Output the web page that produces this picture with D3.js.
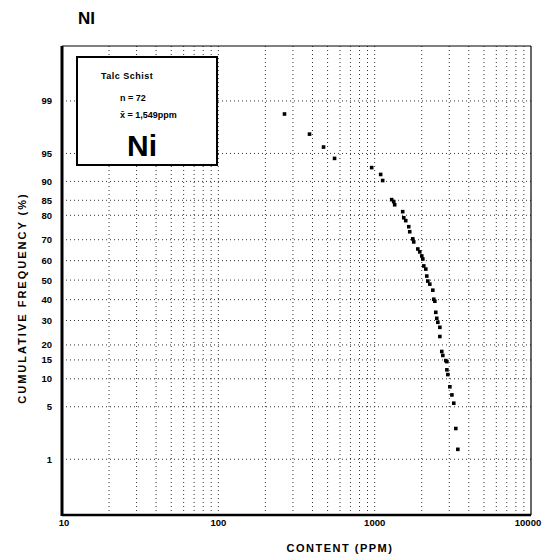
<!DOCTYPE html>
<html>
<head>
<meta charset="utf-8">
<script src="https://cdn.jsdelivr.net/npm/d3@7"></script>
<style>
  body { margin: 0; background: #fff; }
  text { font-family: "Liberation Sans", "DejaVu Sans", sans-serif; fill: #000; }
</style>
</head>
<body>
<div id="container"></div>
<script>
// Données
const yTicks = [1, 5, 10, 15, 20, 30, 40, 50, 60, 70, 80, 85, 90, 95, 99];
const xTicks = [10, 100, 1000, 10000];
const xTickLabels = ["10", "100", "1000", "10000"];

// teneur (ppm) et fréquence cumulée (%) de chaque point
const contentPpm = [265, 383, 471, 554, 957, 1092, 1125, 1285, 1324, 1343, 1511, 1535, 1580,
  1652, 1676, 1753, 1778, 1888, 1943, 2001, 2032, 2061, 2124, 2154, 2187, 2253, 2355, 2388,
  2426, 2460, 2496, 2535, 2612, 2612, 2687, 2729, 2851, 2897, 2897, 2938, 3027, 3119, 3206,
  3304, 3404];
const cumFreq = [98.45, 97.1, 95.8, 94.3, 92.8, 91.5, 90.2, 85.2, 84.6, 83.6, 81.3, 79.1, 78.0,
  75.6, 73.5, 70.4, 69.0, 65.7, 64.3, 62.3, 60.8, 57.3, 55.7, 52.1, 49.5, 47.9, 44.8, 40.2,
  39.2, 33.8, 31.0, 29.2, 27.0, 23.2, 17.7, 16.4, 14.8, 14.5, 12.2, 11.0, 8.3, 6.8, 5.5,
  2.7, 1.4];

const legendLines = ["Talc  Schist", "n = 72", "x\u0304 = 1,549ppm"];

const width = 560;
const height = 557;
const mLeft = 62, mRight = 531, mTop = 46, mBottom = 515;

// inverse de la loi normale (Acklam)
function normInv(p) {
  const a = [-39.6968302866538, 220.946098424521, -275.928510446969, 138.357751867269, -30.6647980661472, 2.50662827745924];
  const b = [-54.4760987982241, 161.585836858041, -155.698979859887, 66.8013118877197, -13.2806815528857];
  const c = [-0.00778489400243029, -0.322396458041136, -2.40075827716184, -2.54973253934373, 4.37466414146497, 2.93816398269878];
  const d = [0.00778469570904146, 0.32246712907004, 2.445134137143, 3.75440866190742];
  const pl = 0.02425;
  let q, r;
  if (p < pl) {
    q = Math.sqrt(-2 * Math.log(p));
    return (((((c[0]*q+c[1])*q+c[2])*q+c[3])*q+c[4])*q+c[5]) / ((((d[0]*q+d[1])*q+d[2])*q+d[3])*q+1);
  } else if (p <= 1 - pl) {
    q = p - 0.5; r = q * q;
    return (((((a[0]*r+a[1])*r+a[2])*r+a[3])*r+a[4])*r+a[5])*q / (((((b[0]*r+b[1])*r+b[2])*r+b[3])*r+b[4])*r+1);
  } else {
    q = Math.sqrt(-2 * Math.log(1 - p));
    return -(((((c[0]*q+c[1])*q+c[2])*q+c[3])*q+c[4])*q+c[5]) / ((((d[0]*q+d[1])*q+d[2])*q+d[3])*q+1);
  }
}

// Échelles
const xScale = d3.scaleLog().domain([10, 10000]).range([mLeft, mRight]);
const zScale = d3.scaleLinear().domain([-3.05, 3.04]).range([mBottom, mTop]);
const yScale = p => zScale(normInv(p / 100));

const svg = d3.select("#container").append("svg")
  .attr("width", width).attr("height", height);

// titre
svg.append("text")
  .attr("x", 78).attr("y", 24)
  .style("font-size", "17px").style("font-weight", "bold")
  .text("NI");

// grille verticale (1..9 par décade)
const minor = [];
for (let e = 1; e < 4; e++) for (let m = 1; m <= 9; m++) minor.push(m * Math.pow(10, e));
svg.append("g").selectAll("line").data(minor.filter(v => v > 10)).enter()
  .append("line")
  .attr("x1", d => xScale(d)).attr("x2", d => xScale(d))
  .attr("y1", mTop).attr("y2", mBottom)
  .attr("stroke", "#333").attr("stroke-width", 1)
  .attr("stroke-dasharray", "1,3");

// grille horizontale
svg.append("g").selectAll("line").data(yTicks).enter()
  .append("line")
  .attr("x1", mLeft).attr("x2", mRight)
  .attr("y1", d => yScale(d)).attr("y2", d => yScale(d))
  .attr("stroke", "#333").attr("stroke-width", 1)
  .attr("stroke-dasharray", "1,3");

// cadre
svg.append("line").attr("x1", mLeft).attr("x2", mRight).attr("y1", mTop).attr("y2", mTop)
  .attr("stroke", "#000").attr("stroke-width", 1);
svg.append("line").attr("x1", mRight).attr("x2", mRight).attr("y1", mTop).attr("y2", mBottom)
  .attr("stroke", "#000").attr("stroke-width", 1.2);
svg.append("line").attr("x1", mLeft).attr("x2", mLeft).attr("y1", mTop).attr("y2", mBottom + 1)
  .attr("stroke", "#000").attr("stroke-width", 3);
svg.append("line").attr("x1", mLeft).attr("x2", mRight).attr("y1", mBottom).attr("y2", mBottom)
  .attr("stroke", "#000").attr("stroke-width", 2.5);

// étiquettes de l'axe Y
svg.append("g").selectAll("text").data(yTicks).enter()
  .append("text")
  .attr("x", 52).attr("y", d => yScale(d) + 3.5)
  .attr("text-anchor", "end")
  .style("font-size", "9.5px").style("font-weight", "bold")
  .text(d => d);

// étiquettes de l'axe X
svg.append("g").selectAll("text").data(xTicks).enter()
  .append("text")
  .attr("x", (d, i) => xScale(d) + (i === 0 ? 2 : (i === 3 ? -3 : 0)))
  .attr("y", 526)
  .attr("text-anchor", "middle")
  .style("font-size", "9.5px").style("font-weight", "bold")
  .text((d, i) => xTickLabels[i]);

// titres des axes
svg.append("text")
  .attr("x", 340).attr("y", 552)
  .attr("text-anchor", "middle")
  .style("font-size", "11px").style("font-weight", "bold")
  .style("letter-spacing", "1.5px")
  .text("CONTENT  (PPM)");

svg.append("text")
  .attr("transform", "translate(26,298) rotate(-90)")
  .attr("text-anchor", "middle")
  .style("font-size", "11px").style("font-weight", "bold")
  .style("letter-spacing", "2px")
  .text("CUMULATIVE  FREQUENCY  (%)");

// légende
const lg = svg.append("g");
lg.append("rect")
  .attr("x", 77).attr("y", 57).attr("width", 140).attr("height", 108)
  .attr("fill", "#fff").attr("stroke", "#000").attr("stroke-width", 2);
lg.append("text").attr("x", 101).attr("y", 79)
  .style("font-size", "9px").style("font-weight", "bold").style("letter-spacing", "0.5px")
  .text(legendLines[0]);
lg.append("text").attr("x", 120).attr("y", 101)
  .style("font-size", "9px").style("font-weight", "bold")
  .text(legendLines[1]);
lg.append("text").attr("x", 120).attr("y", 118)
  .style("font-size", "9px").style("font-weight", "bold")
  .text(legendLines[2]);
lg.append("text").attr("x", 127).attr("y", 156)
  .style("font-size", "30px").style("font-weight", "bold")
  .text("Ni");

// points
svg.append("g").selectAll("rect").data(contentPpm).enter()
  .append("rect")
  .attr("x", (d, i) => xScale(d) - 1.8)
  .attr("y", (d, i) => yScale(cumFreq[i]) - 1.8)
  .attr("width", 3.6).attr("height", 3.6)
  .attr("fill", "#000");
</script>
</body>
</html>
